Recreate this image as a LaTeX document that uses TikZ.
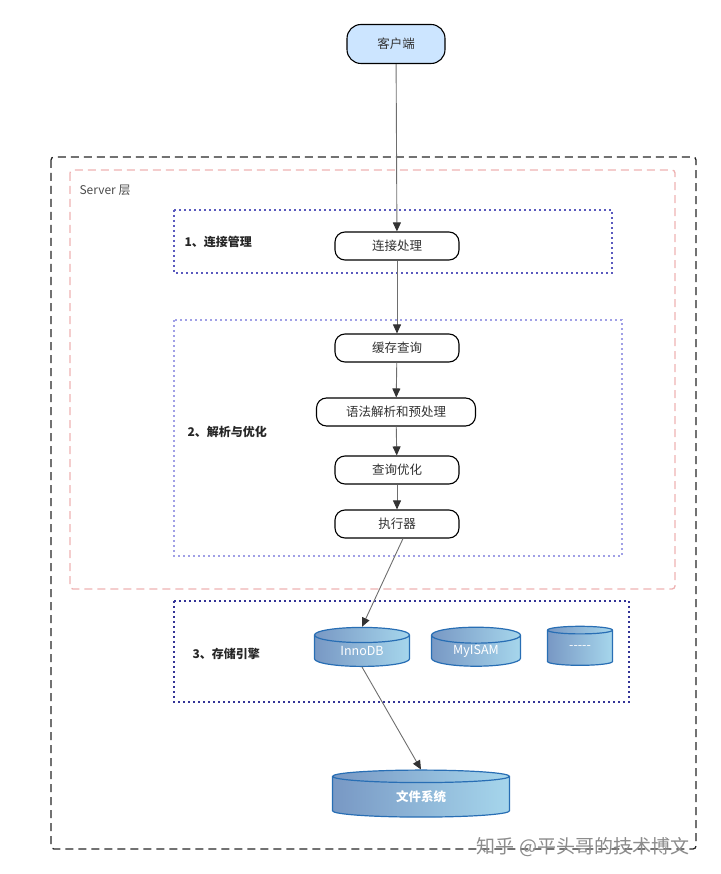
\documentclass[tikz,border=0pt]{standalone}
\usepackage{fontspec}
\setmainfont{Noto Sans CJK SC}
\usepackage{tikz}
\usetikzlibrary{shapes.geometric,arrows.meta,positioning,calc}
\definecolor{clientBlue}{RGB}{204,229,255}
\definecolor{serverPink}{RGB}{238,178,178}
\definecolor{connPurple}{RGB}{90,90,190}
\definecolor{parsePurple}{RGB}{160,160,230}
\definecolor{enginePurple}{RGB}{50,50,150}
\definecolor{dbEdge}{RGB}{40,110,180}
\definecolor{dbLeft}{RGB}{120,152,196}
\definecolor{dbRight}{RGB}{166,214,236}
\definecolor{arrGray}{RGB}{110,110,110}

\begin{document}
\begin{tikzpicture}[x=1pt,y=1pt,
        bx/.style={draw, rounded corners=10pt, line width=1.1pt, fill=white, text=black!80,
                   font=\fontsize{12.5}{14}\selectfont, minimum width=124pt, minimum height=28pt,
                   inner sep=2pt},
        db/.style={cylinder, shape border rotate=90, draw=dbEdge, line width=1.2pt,
                   left color=dbLeft, right color=dbRight, text=white, aspect=0.35,
                   font=\fontsize{12.5}{14}\selectfont, inner sep=0pt},
        lbl/.style={font=\fontsize{12}{14}\selectfont\bfseries, anchor=west, text=black!85},
        arr/.style={-{Triangle[length=9pt,width=8pt,color=black!80]}, arrGray, line width=0.9pt}
      ]
        \useasboundingbox (0,0) rectangle (720,-874);
        % FRAMES
        \draw[black!85, line width=1.3pt, dash pattern=on 8pt off 5pt, rounded corners=3pt]
            (51,-157) rectangle (696,-849);
        \draw[serverPink, line width=1.3pt, dash pattern=on 8pt off 5pt, rounded corners=3pt]
            (70,-170) rectangle (675,-589);
        \node[anchor=west, font=\fontsize{12}{14}\selectfont, text=black!70] (srv) at (76,-190) {Server 层};
        \draw[connPurple, line width=1.3pt, dash pattern=on 2pt off 3pt] (174,-210) rectangle (612,-273);
        \draw[parsePurple, line width=1.3pt, dash pattern=on 2pt off 3pt] (174,-320) rectangle (622,-556);
        \draw[enginePurple, line width=1.5pt, dash pattern=on 2pt off 3pt] (174,-601) rectangle (629,-702);
        % LABELS
        \node[lbl] (l1) at (181,-242) {1、连接管理};
        \node[lbl] (l2) at (184,-432) {2、解析与优化};
        \node[lbl] (l3) at (189,-654) {3、存储引擎};
        % CLIENT + SERVER NODES
        \node[bx, rounded corners=14pt, fill=clientBlue, minimum width=98pt, minimum height=39pt] (cli) at (396,-44) {客户端};
        \node[bx] (conn) at (397,-246) {连接处理};
        \node[bx] (cache) at (397,-348) {缓存查询};
        \node[bx, minimum width=159pt] (parse) at (396,-412) {语法解析和预处理};
        \node[bx] (opt) at (397,-470) {查询优化};
        \node[bx] (exec) at (397,-524) {执行器};
        % STORAGE ENGINES
        \node[db, minimum width=95pt, minimum height=39pt] (inno) at (362,-651) {InnoDB};
        \node[db, minimum width=89pt, minimum height=39pt] (myisam) at (476,-651) {MyISAM};
        \node[db, minimum width=65pt, minimum height=39pt] (other) at (580,-648) {-{}-{}-{}-{}-};
        \node[db, minimum width=177pt, minimum height=47pt, aspect=0.25, font=\fontsize{12.5}{14}\selectfont\bfseries] (fs) at (421,-797) {文件系统};
        % ARROWS
        \draw[arr] (cli)--(conn);
        \draw[arr] (conn)--(cache);
        \draw[arr] (cache)--(parse);
        \draw[arr] (parse)--(opt);
        \draw[arr] (opt)--(exec);
        \draw[arr] (exec.south)++(6,0) coordinate (ex) (ex)--(inno.north);
        \draw[arr] (inno.south)--(fs.north);
        % WATERMARK
        \node[font=\fontsize{19}{21}\selectfont, text=black!45] (wm) at (583,-847) {知乎 @平头哥的技术博文};
      \end{tikzpicture}
\end{document}
